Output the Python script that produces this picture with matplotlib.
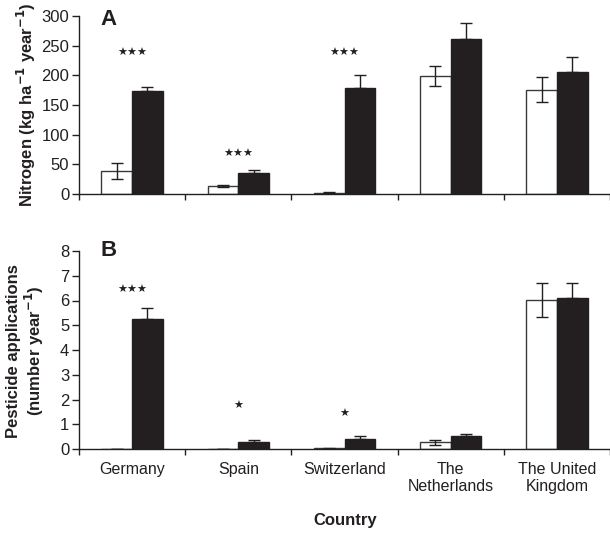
import matplotlib
matplotlib.use("Agg")
import matplotlib.pyplot as plt
import numpy as np

plt.rcParams['font.family'] = ['Liberation Sans', 'DejaVu Sans']

countries = ["Germany", "Spain", "Switzerland", "The\nNetherlands", "The United\nKingdom"]

# Panel A: nitrogen (kg ha-1 year-1)
n_white = [39, 14, 2, 199, 176]
n_white_err = [13, 2, 1, 17, 21]
n_black = [173, 35, 178, 261, 206]
n_black_err = [7, 6, 23, 27, 25]
n_sig = ["***", "***", "***", "", ""]
n_sig_y = [238, 67, 238, 0, 0]

# Panel B: pesticide applications (number year-1)
p_white = [0.0, 0.0, 0.04, 0.27, 6.03]
p_white_err = [0.0, 0.0, 0.02, 0.11, 0.68]
p_black = [5.27, 0.28, 0.42, 0.51, 6.11]
p_black_err = [0.43, 0.08, 0.09, 0.10, 0.60]
p_sig = ["***", "*", "*", "", ""]
p_sig_y = [6.42, 1.75, 1.41, 0, 0]

W, H = 610, 533
fig = plt.figure(figsize=(W / 100, H / 100), dpi=100)
axA = fig.add_axes([79 / W, 1 - 194 / H, 531 / W, 178 / H])
axB = fig.add_axes([79 / W, 1 - 449 / H, 531 / W, 198 / H])

x = np.arange(len(countries))
w = 0.29
black = "#231f20"

def draw(ax, wv, we, bv, be, sig, sigy, ymax, yticks, letter, letter_y):
    ax.bar(x - w/2, wv, w, color="white", edgecolor="#3a3a3a", linewidth=1.0, zorder=2)
    ax.bar(x + w/2, bv, w, color=black, edgecolor=black, linewidth=1.0, zorder=2)
    ax.errorbar(x - w/2, wv, yerr=we, fmt="none", ecolor=black, elinewidth=1.0,
                capsize=4, capthick=1.0, zorder=3)
    ax.errorbar(x + w/2, bv, yerr=[np.zeros(len(be)), be], fmt="none", ecolor=black,
                elinewidth=1.0, capsize=4, capthick=1.0, zorder=3)
    for xi, s, sy in zip(x, sig, sigy):
        if s:
            ax.text(xi, sy, s.replace("*", "\u2605"), ha="center", va="center",
                    fontsize=8, family="DejaVu Sans", color=black)
    ax.set_xlim(-0.5, len(countries) - 0.5)
    ax.set_ylim(0, ymax)
    ax.set_yticks(yticks)
    ax.set_xticks(np.arange(len(countries) + 1) - 0.5)
    ax.set_xticklabels([])
    ax.spines["top"].set_visible(False)
    ax.spines["right"].set_visible(False)
    for sp in ("left", "bottom"):
        ax.spines[sp].set_linewidth(1.0)
        ax.spines[sp].set_color(black)
    ax.tick_params(axis="y", direction="out", length=5, width=1.0, labelsize=12,
                   colors=black, pad=2)
    ax.tick_params(axis="x", direction="out", length=4, width=1.0, colors=black)
    ax.text(0.04, letter_y, letter, transform=ax.transAxes, fontsize=16, fontweight="bold",
            va="baseline", ha="left", color=black)

draw(axA, n_white, n_white_err, n_black, n_black_err, n_sig, n_sig_y, 300,
     [0, 50, 100, 150, 200, 250, 300], "A", 0.949)
draw(axB, p_white, p_white_err, p_black, p_black_err, p_sig, p_sig_y, 8,
     list(range(0, 9)), "B", 0.977)

fig.text(26 / W, 1 - 105 / H, r"Nitrogen (kg ha$^{\mathbf{-1}}$ year$^{\mathbf{-1}}$)",
         rotation=90, ha="center", va="center", fontsize=12, fontweight="bold", color=black)
fig.text(26 / W, 1 - 351 / H, "Pesticide applications\n(number year$^{\\mathbf{-1}}$)",
         rotation=90, ha="center", va="center", fontsize=12, fontweight="bold",
         color=black, multialignment="center", linespacing=1.1)

for xi, lab in zip(x, countries):
    axB.annotate(lab, xy=(xi, 0), xycoords=("data", "axes fraction"),
                 xytext=(0, -13), textcoords="offset pixels", ha="center", va="top",
                 fontsize=11.5, linespacing=1.15, color=black)
fig.text(345 / W, 1 - 521 / H, "Country", ha="center", va="center",
         fontsize=12, fontweight="bold", color=black)

fig.savefig("out.png", dpi=100)
